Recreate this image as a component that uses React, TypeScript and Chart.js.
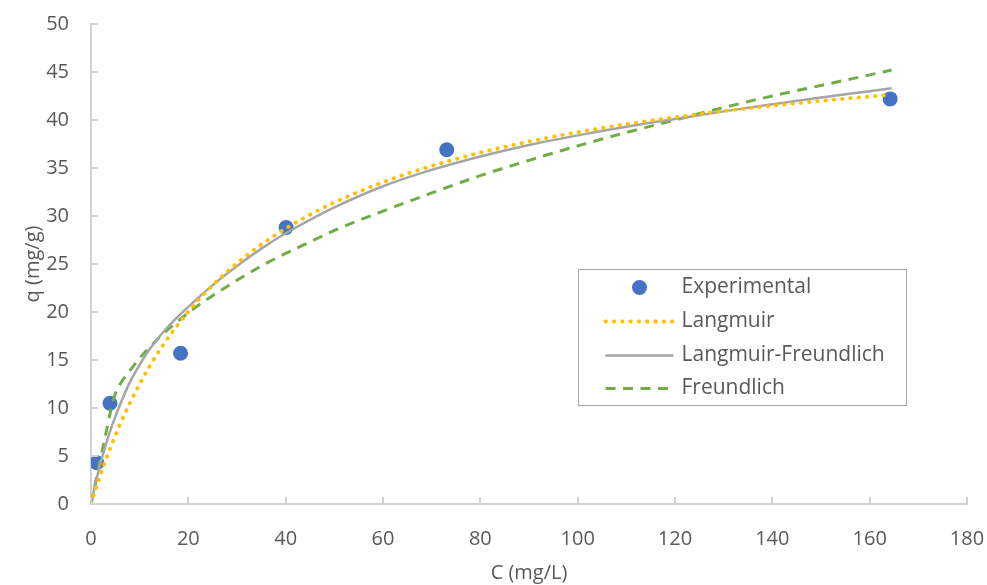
import React, { useEffect, useRef } from "react";
import { Chart, registerables } from "chart.js";

Chart.register(...registerables);

// ---- Data ----
const EXP_C = [1.2, 3.9, 18.4, 40.1, 73.1, 164.2];
const EXP_Q = [4.3, 10.5, 15.7, 28.8, 36.9, 42.2];

const FIT_C = [0, 1, 2, 3, 4, 5, 6, 8, 10, 12, 15, 18, 21, 25, 30, 35, 40, 45, 50, 60, 70, 80, 90, 100, 110, 120, 130, 140, 150, 160, 164.5];
const LANGMUIR_Q = [0, 1.61, 3.12, 4.54, 5.87, 7.13, 8.32, 10.52, 12.5, 14.3, 16.69, 18.78, 20.63, 22.79, 25.09, 27.03, 28.69, 30.14, 31.41, 33.52, 35.21, 36.6, 37.75, 38.73, 39.57, 40.29, 40.93, 41.49, 41.99, 42.44, 42.62];
const LF_Q = [0, 2.3, 4.3, 6.1, 7.7, 9.1, 10.4, 12.7, 14.5, 16.1, 18.0, 19.6, 21.0, 22.8, 24.8, 26.6, 28.2, 29.6, 30.9, 33.1, 34.8, 36.2, 37.4, 38.4, 39.3, 40.1, 40.9, 41.65, 42.35, 43.0, 43.3];
const FREUNDLICH_Q = [0, 2.4, 4.8, 7.2, 9.6, 11.5, 12.5, 13.9, 15.2, 16.3, 17.8, 19.1, 20.3, 21.7, 23.3, 24.8, 26.1, 27.3, 28.5, 30.5, 32.4, 34.2, 35.8, 37.3, 38.7, 40.0, 41.3, 42.5, 43.6, 44.7, 45.2];

const X_TICKS = [0, 20, 40, 60, 80, 100, 120, 140, 160, 180];
const Y_TICKS = [0, 5, 10, 15, 20, 25, 30, 35, 40, 45, 50];

const SERIES_LABELS = ["Experimental", "Langmuir", "Langmuir-Freundlich", "Freundlich"];

const FONT = "'Open Sans', 'Noto Sans', sans-serif";
const TEXT_COLOR = "#595959";
const AXIS_COLOR = "#D0D0D0";

const toXY = (xs: number[], ys: number[]) => xs.map((x, i) => ({ x, y: ys[i] }));

const innerTicksPlugin = {
  id: "innerTicks",
  afterDraw(chart: any) {
    const { ctx, chartArea, scales } = chart;
    const len = 7;
    ctx.save();
    ctx.strokeStyle = AXIS_COLOR;
    ctx.lineWidth = 2;
    ctx.beginPath();
    X_TICKS.forEach((v) => {
      const px = Math.round(scales.x.getPixelForValue(v));
      ctx.moveTo(px, chartArea.bottom);
      ctx.lineTo(px, chartArea.bottom - len);
    });
    Y_TICKS.forEach((v) => {
      const py = Math.round(scales.y.getPixelForValue(v));
      ctx.moveTo(chartArea.left, py);
      ctx.lineTo(chartArea.left + len, py);
    });
    ctx.stroke();
    ctx.restore();
  },
};

const boxLegendPlugin = {
  id: "boxLegend",
  afterDraw(chart: any) {
    const { ctx, chartArea } = chart;
    const w = chartArea.right - chartArea.left;
    const h = chartArea.bottom - chartArea.top;
    const bx = Math.round(chartArea.left + w * 0.556) + 0.5;
    const by = Math.round(chartArea.top + h * 0.51) + 0.5;
    const bw = 328;
    const bh = 136;
    ctx.save();
    ctx.fillStyle = "#FFFFFF";
    ctx.fillRect(bx, by, bw, bh);
    ctx.strokeStyle = "#A6A6A6";
    ctx.lineWidth = 1;
    ctx.strokeRect(bx, by, bw, bh);
    const rowY = [18, 52, 86, 119];
    const sx0 = bx + 27;
    const sx1 = bx + 95;
    const tx = bx + 103;
    chart.data.datasets.forEach((ds: any, i: number) => {
      const y = by + rowY[i];
      if (i === 0) {
        ctx.beginPath();
        ctx.fillStyle = ds.backgroundColor;
        ctx.arc((sx0 + sx1) / 2, y, ds.pointRadius, 0, Math.PI * 2);
        ctx.fill();
      } else {
        ctx.beginPath();
        ctx.strokeStyle = ds.borderColor;
        ctx.lineWidth = ds.borderWidth;
        ctx.lineCap = ds.borderCapStyle || "butt";
        ctx.setLineDash(ds.borderDash || []);
        ctx.moveTo(sx0, y);
        ctx.lineTo(sx1, y);
        ctx.stroke();
        ctx.setLineDash([]);
      }
      ctx.fillStyle = TEXT_COLOR;
      ctx.font = `21px ${FONT}`;
      ctx.textBaseline = "middle";
      ctx.textAlign = "left";
      ctx.fillText(ds.label, tx, y);
    });
    ctx.restore();
  },
};

export default function App() {
  const canvasRef = useRef<HTMLCanvasElement | null>(null);

  useEffect(() => {
    document.body.style.margin = "0";
    const canvas = canvasRef.current;
    if (!canvas) return;
    const chart = new Chart(canvas, {
      type: "line",
      data: {
        datasets: [
          {
            label: SERIES_LABELS[0],
            data: toXY(EXP_C, EXP_Q),
            showLine: false,
            pointRadius: 7.5,
            pointHoverRadius: 7.5,
            pointBackgroundColor: "#4472C4",
            pointBorderWidth: 0,
            backgroundColor: "#4472C4",
            borderColor: "#4472C4",
            order: 10,
          },
          {
            label: SERIES_LABELS[1],
            data: toXY(FIT_C, LANGMUIR_Q),
            borderColor: "#FFC000",
            borderWidth: 3.8,
            borderDash: [0.5, 7.8],
            borderCapStyle: "round",
            pointRadius: 0,
            cubicInterpolationMode: "monotone",
            fill: false,
            order: 1,
          },
          {
            label: SERIES_LABELS[2],
            data: toXY(FIT_C, LF_Q),
            borderColor: "#A5A5A5",
            borderWidth: 2.5,
            pointRadius: 0,
            cubicInterpolationMode: "monotone",
            fill: false,
            order: 2,
          },
          {
            label: SERIES_LABELS[3],
            data: toXY(FIT_C, FREUNDLICH_Q),
            borderColor: "#70AD47",
            borderWidth: 3,
            borderDash: [10, 7.5],
            pointRadius: 0,
            cubicInterpolationMode: "monotone",
            fill: false,
            order: 3,
          },
        ],
      },
      options: {
        responsive: false,
        animation: false,
        events: [],
        layout: { padding: { top: 24, right: 20, left: 0, bottom: 0 } },
        plugins: {
          legend: { display: false },
          tooltip: { enabled: false },
        },
        scales: {
          x: {
            type: "linear",
            min: X_TICKS[0],
            max: X_TICKS[X_TICKS.length - 1],
            afterBuildTicks: (s: any) => {
              s.ticks = X_TICKS.map((v) => ({ value: v }));
            },
            afterFit: (s: any) => {
              s.height = 81;
              s.paddingLeft = 0;
              s.paddingRight = 0;
            },
            grid: { display: false, drawTicks: false },
            border: { display: true, color: AXIS_COLOR, width: 2 },
            ticks: {
              padding: 23,
              color: TEXT_COLOR,
              font: { family: FONT, size: 20 },
              maxRotation: 0,
            },
            title: {
              display: true,
              text: "C (mg/L)",
              color: TEXT_COLOR,
              font: { family: FONT, size: 20 },
              padding: { top: 0, bottom: 0 },
            },
          },
          y: {
            type: "linear",
            min: Y_TICKS[0],
            max: Y_TICKS[Y_TICKS.length - 1],
            afterBuildTicks: (s: any) => {
              s.ticks = Y_TICKS.map((v) => ({ value: v }));
            },
            afterFit: (s: any) => {
              s.width = 91;
              s.paddingTop = 0;
              s.paddingBottom = 0;
            },
            grid: { display: false, drawTicks: false },
            border: { display: true, color: AXIS_COLOR, width: 2 },
            ticks: {
              padding: 22,
              color: TEXT_COLOR,
              font: { family: FONT, size: 20 },
            },
            title: {
              display: true,
              text: "q (mg/g)",
              color: TEXT_COLOR,
              font: { family: FONT, size: 20 },
              padding: { top: 21, bottom: 0 },
            },
          },
        },
      },
      plugins: [innerTicksPlugin, boxLegendPlugin],
    });
    return () => chart.destroy();
  }, []);

  return (
    <div style={{ width: 987, height: 585, position: "relative" }}>
      <canvas ref={canvasRef} width={987} height={585} style={{ display: "block", width: 987, height: 585 }} />
    </div>
  );
}
